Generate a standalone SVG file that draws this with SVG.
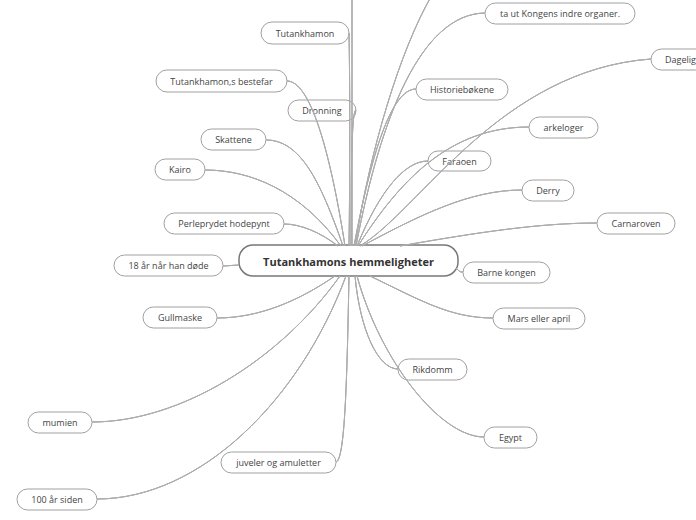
<svg xmlns="http://www.w3.org/2000/svg" xmlns:xlink="http://www.w3.org/1999/xlink" width="696" height="520" viewBox="0 0 696 520">
<style>
.n rect{fill:#fff;stroke:#a0a0a0;stroke-width:1}
.n text{font-family:"Open Sans","Noto Sans",sans-serif;font-size:9px;fill:#444;text-anchor:middle;dominant-baseline:central}
#c rect{fill:#fff;stroke:#777;stroke-width:1.5}
#c text{font-family:"Open Sans","Noto Sans",sans-serif;font-size:11px;font-weight:bold;fill:#333;text-anchor:middle;dominant-baseline:central}
#links path{fill:none;stroke:#adadad;stroke-width:1}
#links .t1 path{stroke-width:1.6;stroke-dasharray:70 3000;stroke:#a8a8a8}
#links .t2 path{stroke-width:2.2;stroke-dasharray:30 3000;stroke:#a0a0a0}
</style>
<rect width="696" height="520" fill="#fff"/>
<g id="c"><rect x="239" y="245" width="219" height="31" rx="14"/><text x="348.5" y="261">Tutankhamons hemmeligheter</text></g>
<g id="n1" class="n"><rect x="261" y="22" width="88" height="22" rx="11"/><text x="305" y="33">Tutankhamon</text></g>
<g id="n2" class="n"><rect x="156" y="70" width="131" height="22" rx="11"/><text x="221.5" y="81">Tutankhamon,s bestefar</text></g>
<g id="n3" class="n"><rect x="288" y="100" width="68" height="21" rx="10.5"/><text x="322" y="110.5">Dronning</text></g>
<g id="n4" class="n"><rect x="201" y="129" width="65" height="21" rx="10.5"/><text x="233.5" y="139.5">Skattene</text></g>
<g id="n5" class="n"><rect x="155" y="159" width="50" height="21" rx="10.5"/><text x="180" y="169.5">Kairo</text></g>
<g id="n6" class="n"><rect x="164" y="213" width="120" height="21" rx="10.5"/><text x="224" y="223.5">Perleprydet hodepynt</text></g>
<g id="n7" class="n"><rect x="114" y="255" width="109" height="21" rx="10.5"/><text x="168.5" y="265.5">18 år når han døde</text></g>
<g id="n8" class="n"><rect x="143" y="307" width="74" height="21" rx="10.5"/><text x="180" y="317.5">Gullmaske</text></g>
<g id="n9" class="n"><rect x="28" y="412" width="64" height="21" rx="10.5"/><text x="60" y="422.5">mumien</text></g>
<g id="n10" class="n"><rect x="221" y="452" width="115" height="21" rx="10.5"/><text x="278.5" y="462.5">juveler og amuletter</text></g>
<g id="n11" class="n"><rect x="17" y="489" width="80" height="21" rx="10.5"/><text x="57" y="499.5">100 år siden</text></g>
<g id="n12" class="n"><rect x="485" y="3" width="150" height="21" rx="10.5"/><text x="560" y="13.5">ta ut Kongens indre organer.</text></g>
<g id="n13" class="n"><rect x="651" y="49" width="70" height="21" rx="10.5"/><text x="665" y="59.5" style="text-anchor:start">Dagelig</text></g>
<g id="n14" class="n"><rect x="416" y="79" width="92" height="21" rx="10.5"/><text x="462" y="89.5">Historiebøkene</text></g>
<g id="n15" class="n"><rect x="529" y="117" width="69" height="21" rx="10.5"/><text x="563.5" y="127.5">arkeloger</text></g>
<g id="n16" class="n"><rect x="428" y="151" width="63" height="20" rx="10"/><text x="459.5" y="161">Faraoen</text></g>
<g id="n17" class="n"><rect x="522" y="180" width="52" height="21" rx="10.5"/><text x="548" y="190.5">Derry</text></g>
<g id="n18" class="n"><rect x="597" y="213" width="78" height="21" rx="10.5"/><text x="636" y="223.5">Carnaroven</text></g>
<g id="n19" class="n"><rect x="463" y="262" width="87" height="21" rx="10.5"/><text x="506.5" y="272.5">Barne kongen</text></g>
<g id="n20" class="n"><rect x="493" y="308" width="92" height="21" rx="10.5"/><text x="539" y="318.5">Mars eller april</text></g>
<g id="n21" class="n"><rect x="398" y="359" width="69" height="21" rx="10.5"/><text x="432.5" y="369.5">Rikdomm</text></g>
<g id="n22" class="n"><rect x="484" y="427" width="53" height="21" rx="10.5"/><text x="510.5" y="437.5">Egypt</text></g>
<g id="links">
<g id="base">
<path d="M349,246 C350,180 350,80 349,33"/>
<path d="M352,246 L352,-2"/>
<path d="M355,246 C370,150 400,50 432,-5"/>
<path d="M356,246 C380,120 420,14 485,13"/>
<path d="M354,246 C372,150 392,89 416,89"/>
<path d="M351,246 C351,160 352,110 356,110"/>
<path d="M345,246 C330,150 310,81 287,81"/>
<path d="M343,246 C320,180 300,140 266,140"/>
<path d="M341,246 C300,190 250,170 205,170"/>
<path d="M338,246 C320,232 300,224 284,224"/>
<path d="M357,246 C380,190 405,161 428,161"/>
<path d="M358,246 C400,180 450,127 529,127"/>
<path d="M360,246 C420,210 500,70 651,59"/>
<path d="M362,246 C420,215 470,190 522,190"/>
<path d="M400,246 C480,232 540,223 597,223"/>
<path d="M370,276 C420,300 450,318 493,318"/>
<path d="M355,276 C360,330 378,369 398,369"/>
<path d="M357,276 C380,360 440,437 484,437"/>
<path d="M335,276 C300,300 260,318 217,318"/>
<path d="M340,276 C280,360 180,422 92,422"/>
<path d="M349,276 C347,380 345,460 336,462"/>
<path d="M346,276 C300,400 200,499 97,499"/>
<path d="M456,268 C460,272 460,272 463,272"/>
<path d="M239,265 L223,266"/>
</g>
<use xlink:href="#base" class="t1"/>
<use xlink:href="#base" class="t2"/>
</g>
</svg>
